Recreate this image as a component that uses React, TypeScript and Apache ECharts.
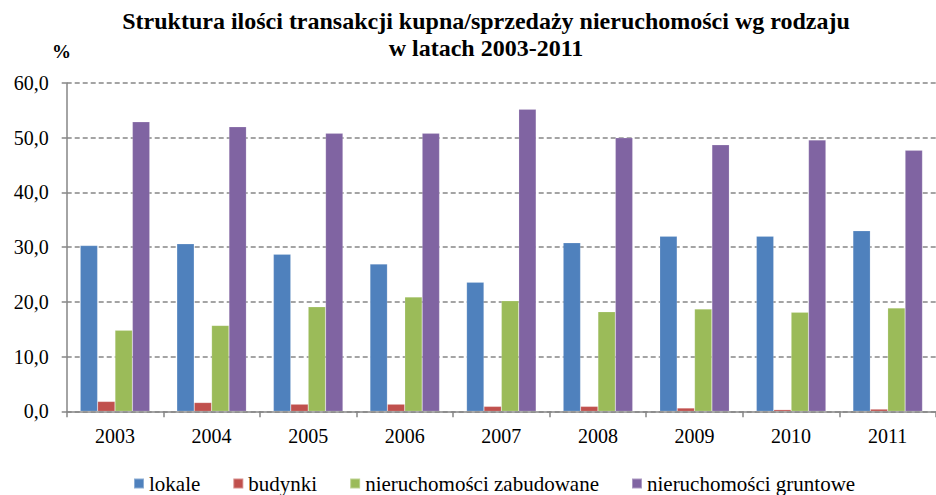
import React, { useEffect, useRef } from "react";
import * as echarts from "echarts";

const years = ["2003", "2004", "2005", "2006", "2007", "2008", "2009", "2010", "2011"];
const lokale = [30.3, 30.6, 28.7, 26.9, 23.6, 30.8, 32.0, 32.0, 33.0];
const budynki = [1.8, 1.6, 1.3, 1.3, 0.9, 0.9, 0.6, 0.3, 0.4];
const zabudowane = [14.8, 15.7, 19.1, 20.9, 20.2, 18.2, 18.7, 18.1, 18.9];
const gruntowe = [52.9, 52.0, 50.8, 50.8, 55.2, 50.0, 48.7, 49.6, 47.7];
const seriesNames = ["lokale", "budynki", "nieruchomości zabudowane", "nieruchomości gruntowe"];
const seriesColors = ["#4F81BD", "#C0504D", "#9BBB59", "#8064A2"];
const yTicks = { min: 0, max: 60, interval: 10 };

const FONT = "'Liberation Serif', 'Times New Roman', serif";

export default function App() {
  const ref = useRef<HTMLDivElement>(null);
  useEffect(() => {
    if (!ref.current) return;
    const chart = echarts.init(ref.current, undefined, { renderer: "svg" });
    const values = [lokale, budynki, zabudowane, gruntowe];
    chart.setOption({
      animation: false,
      backgroundColor: "#ffffff",
      title: {
        text: "Struktura ilości transakcji kupna/sprzedaży nieruchomości wg rodzaju\nw latach 2003-2011",
        left: 481,
        textAlign: "center",
        top: 2,
        textStyle: { fontFamily: FONT, fontWeight: "bold", fontSize: 24, lineHeight: 27, color: "#000" },
      },
      graphic: [
        {
          type: "text",
          x: 52,
          y: 42,
          style: { text: "%", font: `bold 19px ${FONT}`, fill: "#000" },
        },
      ],
      legend: {
        data: seriesNames,
        left: 133,
        top: 473,
        padding: 0,
        icon: "rect",
        itemWidth: 10,
        itemHeight: 10,
        itemGap: 32,
        textStyle: { fontFamily: FONT, fontSize: 21, lineHeight: 20, color: "#000" },
      },
      grid: { left: 66.7, top: 83, right: -6, bottom: 83.7, containLabel: false },
      xAxis: {
        type: "category",
        data: years,
        axisLine: { lineStyle: { color: "#868686", width: 1.5 } },
        axisTick: { show: true, length: 6, lineStyle: { color: "#868686", width: 1.5 } },
        axisLabel: { fontFamily: FONT, fontSize: 20, color: "#000", margin: 15 },
      },
      yAxis: {
        type: "value",
        min: yTicks.min,
        max: yTicks.max,
        interval: yTicks.interval,
        axisLine: { show: true, lineStyle: { color: "#868686", width: 1.5 } },
        axisTick: { show: true, length: 5, lineStyle: { color: "#868686", width: 1.5 } },
        axisLabel: {
          fontFamily: FONT,
          fontSize: 20,
          color: "#000",
          margin: 18,
          formatter: (v: number) => v.toFixed(1).replace(".", ","),
        },
        splitLine: { show: true, lineStyle: { color: "#868686", width: 1.5, type: [5, 3] } },
      },
      series: seriesNames.map((name, i) => ({
        name,
        type: "bar",
        data: values[i],
        barGap: "0%",
        barCategoryGap: "28%",
        itemStyle: { color: seriesColors[i], borderColor: "rgba(255,255,255,0.35)", borderWidth: 0.5 },
      })),
    });
    return () => chart.dispose();
  }, []);
  return <div ref={ref} style={{ position: "fixed", left: 0, top: 0, width: 936, height: 495 }} />;
}
